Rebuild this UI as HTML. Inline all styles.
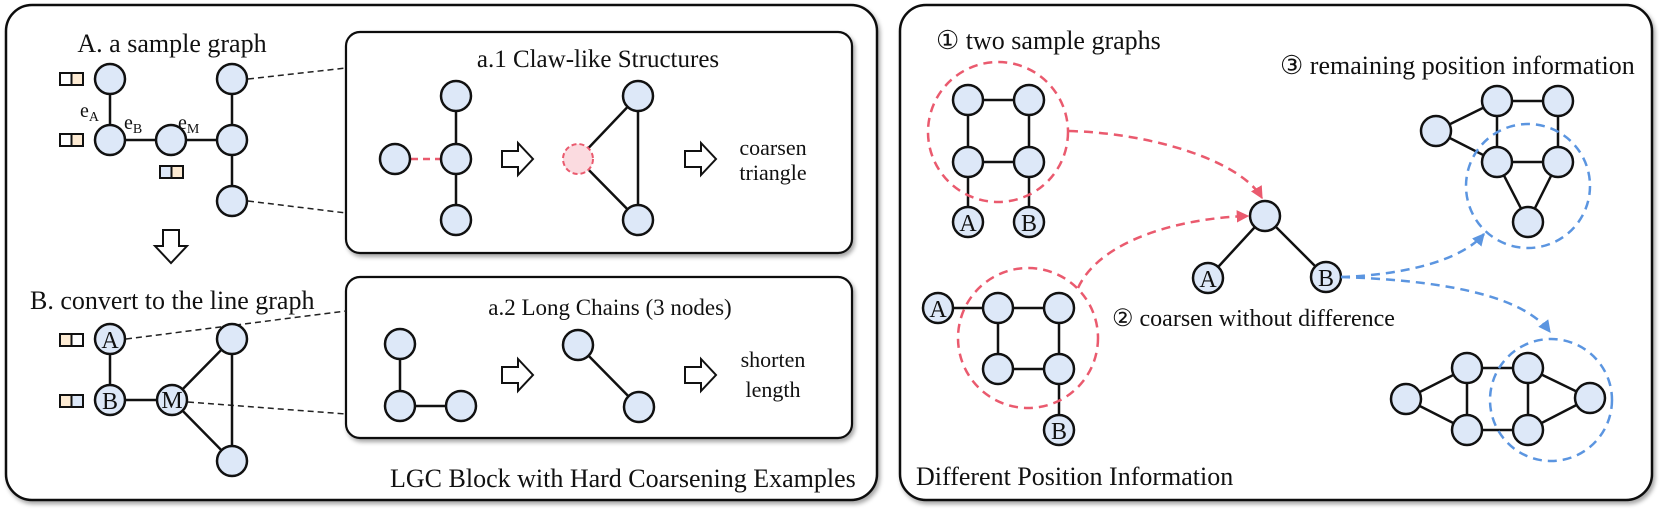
<!DOCTYPE html>
<html><head><meta charset="utf-8"><style>
body{margin:0;background:#fff}
svg{display:block}
text{font-family:"Liberation Serif",serif;fill:#111}
</style></head><body>
<svg width="1661" height="511" viewBox="0 0 1661 511" xmlns="http://www.w3.org/2000/svg">
<defs>
<filter id="sh" x="-5%" y="-5%" width="110%" height="115%"><feDropShadow dx="2" dy="3" stdDeviation="2" flood-color="#000" flood-opacity="0.35"/></filter>
<marker id="mr" viewBox="0 0 10 10" refX="9" refY="5" markerWidth="5" markerHeight="5" orient="auto"><path d="M0,0L10,5L0,10z" fill="#ea5a6e"/></marker>
<marker id="mb" viewBox="0 0 10 10" refX="9" refY="5" markerWidth="5" markerHeight="5" orient="auto"><path d="M0,0L10,5L0,10z" fill="#5b95e0"/></marker>
</defs>
<g fill="#fff" stroke="#111" stroke-width="2.5" filter="url(#sh)">
<rect x="6" y="5" width="871" height="495" rx="26"/>
<rect x="900" y="5" width="752" height="495" rx="26"/>
</g>
<g fill="#fff" stroke="#111" stroke-width="2.2" filter="url(#sh)">
<rect x="346" y="32" width="506" height="221" rx="14"/>
<rect x="346" y="277" width="506" height="161" rx="14"/>
</g>
<g stroke="#222" stroke-width="1.5" stroke-dasharray="6,4" fill="none">
<line x1="248" y1="79" x2="346" y2="68"/>
<line x1="248" y1="201" x2="346" y2="213"/>
<line x1="126" y1="339" x2="346" y2="311"/>
<line x1="188" y1="402" x2="346" y2="414"/>
</g>
<text x="172" y="52" font-size="26" text-anchor="middle">A. a sample graph</text>
<text x="30" y="309" font-size="26">B. convert to the line graph</text>
<text x="598" y="67" font-size="25" text-anchor="middle">a.1 Claw-like Structures</text>
<text x="610" y="315" font-size="23" text-anchor="middle">a.2 Long Chains (3 nodes)</text>
<text x="773" y="155" font-size="22" text-anchor="middle">coarsen</text>
<text x="773" y="180" font-size="22" text-anchor="middle">triangle</text>
<text x="773" y="367" font-size="22" text-anchor="middle">shorten</text>
<text x="773" y="397" font-size="22" text-anchor="middle">length</text>
<text x="390" y="487" font-size="26">LGC Block with Hard Coarsening Examples</text>
<text x="936" y="49" font-size="26">① two sample graphs</text>
<text x="1280" y="74" font-size="26">③ remaining position information</text>
<text x="1112" y="326" font-size="24">② coarsen without difference</text>
<text x="916" y="485" font-size="26">Different Position Information</text>
<g font-size="20"><text x="80" y="117">e<tspan font-size="14" dy="4">A</tspan></text>
<text x="124" y="129">e<tspan font-size="14" dy="4">B</tspan></text>
<text x="178" y="129">e<tspan font-size="14" dy="4">M</tspan></text></g>
<g stroke="#111" stroke-width="2">
<rect x="60" y="73" width="11.5" height="12" fill="#fff"/><rect x="71.5" y="73" width="11.5" height="12" fill="#fdebd3"/>
<rect x="60" y="134" width="11.5" height="12" fill="#fff"/><rect x="71.5" y="134" width="11.5" height="12" fill="#fdebd3"/>
<rect x="160" y="166" width="11.5" height="12" fill="#dde8f8"/><rect x="171.5" y="166" width="11.5" height="12" fill="#fdebd3"/>
<rect x="60" y="334" width="11.5" height="12" fill="#fdebd3"/><rect x="71.5" y="334" width="11.5" height="12" fill="#fff"/>
<rect x="60" y="395" width="11.5" height="12" fill="#fdebd3"/><rect x="71.5" y="395" width="11.5" height="12" fill="#dde8f8"/>
</g>
<g fill="#fff" stroke="#111" stroke-width="2">
<path d="M163,230h16v16h8l-16,17l-16,-17h8z"/>
<path d="M502,151h16v-8l15,16l-15,16v-8h-16z"/>
<path d="M685,151h16v-8l15,16l-15,16v-8h-16z"/>
<path d="M502,367h16v-8l15,16l-15,16v-8h-16z"/>
<path d="M685,367h16v-8l15,16l-15,16v-8h-16z"/>
</g>
<g stroke="#111" stroke-width="2.5" fill="none">
<path d="M110,79V140H232M232,79V201"/>
<path d="M110,339V400H172L232,339V461L172,400"/>
<path d="M456,96V220"/>
<path d="M578,159L638,96V220Z"/>
<path d="M400,344V406H461"/>
<path d="M578,345L639,407"/>
<path d="M968,100H1029V222M968,100V222M968,162H1029"/>
<path d="M938,308H1059V430M998,308V369H1059"/>
<path d="M1208,278L1265,216L1326,277"/>
<path d="M1436,131L1497,101H1558V162H1497V101M1436,131L1497,162L1528,222L1558,162"/>
<path d="M1406,399L1467,368H1528L1590,398L1528,430H1467L1406,399M1467,368V430M1528,368V430"/>
</g>
<line x1="411" y1="159" x2="440" y2="159" stroke="#ea5a6e" stroke-width="2.5" stroke-dasharray="7,5"/>
<g fill="#dde8f8" stroke="#111" stroke-width="2.5">
<circle cx="110" cy="79" r="15"/><circle cx="110" cy="140" r="15"/><circle cx="171" cy="140" r="15"/>
<circle cx="232" cy="79" r="15"/><circle cx="232" cy="140" r="15"/><circle cx="232" cy="201" r="15"/>
<circle cx="110" cy="339" r="15"/><circle cx="110" cy="400" r="15"/><circle cx="172" cy="400" r="15"/>
<circle cx="232" cy="339" r="15"/><circle cx="232" cy="461" r="15"/>
<circle cx="395" cy="159" r="15"/><circle cx="456" cy="96" r="15"/><circle cx="456" cy="159" r="15"/><circle cx="456" cy="220" r="15"/>
<circle cx="638" cy="96" r="15"/><circle cx="638" cy="220" r="15"/>
<circle cx="400" cy="344" r="15"/><circle cx="400" cy="406" r="15"/><circle cx="461" cy="406" r="15"/>
<circle cx="578" cy="345" r="15"/><circle cx="639" cy="407" r="15"/>
<circle cx="968" cy="100" r="15"/><circle cx="1029" cy="100" r="15"/><circle cx="968" cy="162" r="15"/><circle cx="1029" cy="162" r="15"/>
<circle cx="968" cy="222" r="15"/><circle cx="1029" cy="222" r="15"/>
<circle cx="938" cy="308" r="15"/><circle cx="998" cy="308" r="15"/><circle cx="1059" cy="308" r="15"/><circle cx="998" cy="369" r="15"/><circle cx="1059" cy="369" r="15"/><circle cx="1059" cy="430" r="15"/>
<circle cx="1265" cy="216" r="15"/><circle cx="1208" cy="278" r="15"/><circle cx="1326" cy="277" r="15"/>
<circle cx="1436" cy="131" r="15"/><circle cx="1497" cy="101" r="15"/><circle cx="1558" cy="101" r="15"/><circle cx="1497" cy="162" r="15"/><circle cx="1558" cy="162" r="15"/><circle cx="1528" cy="222" r="15"/>
<circle cx="1406" cy="399" r="15"/><circle cx="1467" cy="368" r="15"/><circle cx="1528" cy="368" r="15"/><circle cx="1467" cy="430" r="15"/><circle cx="1528" cy="430" r="15"/><circle cx="1590" cy="398" r="15"/>
</g>
<circle cx="578" cy="159" r="15" fill="#fbdbe0" stroke="#ea5a6e" stroke-width="2" stroke-dasharray="5,3"/>
<g font-size="24" text-anchor="middle">
<text x="110" y="348">A</text><text x="110" y="409">B</text><text x="172" y="408">M</text>
<text x="968" y="231">A</text><text x="1029" y="231">B</text>
<text x="938" y="317">A</text><text x="1059" y="439">B</text>
<text x="1208" y="287">A</text><text x="1326" y="286">B</text>
</g>
<g fill="none" stroke-width="2.5" stroke-dasharray="9,6">
<circle cx="998" cy="132" r="70" stroke="#ea5a6e"/>
<circle cx="1028" cy="338" r="70" stroke="#ea5a6e"/>
<path d="M1069,131C1150,133 1240,160 1262,198" stroke="#ea5a6e" marker-end="url(#mr)"/>
<path d="M1078,288C1100,240 1180,218 1248,216" stroke="#ea5a6e" marker-end="url(#mr)"/>
<circle cx="1528" cy="186" r="62" stroke="#5b95e0"/>
<circle cx="1551" cy="400" r="61" stroke="#5b95e0"/>
<path d="M1341,277C1400,275 1460,262 1484,234" stroke="#5b95e0" marker-end="url(#mb)"/>
<path d="M1341,277C1430,280 1520,292 1550,332" stroke="#5b95e0" marker-end="url(#mb)"/>
</g>
</svg>
</body></html>
